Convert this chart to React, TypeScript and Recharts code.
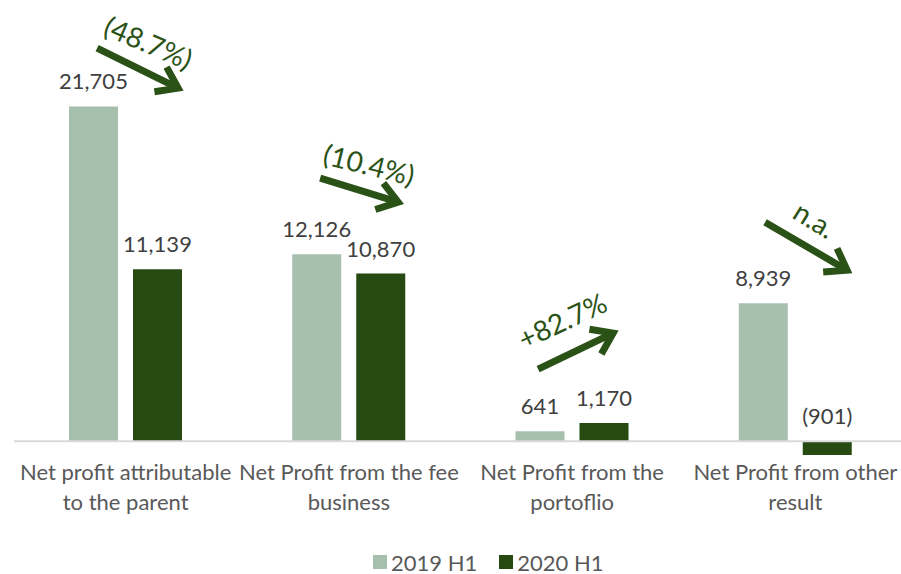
import React from "react";
import { BarChart, Bar, XAxis, YAxis, Legend, LabelList, ReferenceLine, ReferenceDot } from "recharts";

const categories = [
  "Net profit attributable\nto the parent",
  "Net Profit from the fee\nbusiness",
  "Net Profit from the\nportoflio",
  "Net Profit from other\nresult",
];
const values2019 = [21705, 12126, 641, 8939];
const values2020 = [11139, 10870, 1170, -901];
const changeLabels = ["(48.7%)", "(10.4%)", "+82.7%", "n.a."];
const seriesNames = ["2019 H1", "2020 H1"];

const COLORS = ["#a7bfad", "#274a13"];
const ANNOT = "#2b5216";
const FONT = "Lato, 'Open Sans', sans-serif";

// annotation geometry relative to (category centre, zero line)
const ARROW_LAYOUT = [
  { tail: [-28.5, -393], tip: [52.5, -353], text: [23, -399], angle: 23 },
  { tail: [-28.7, -263], tip: [49.3, -239], text: [20.3, -277], angle: 14 },
  { tail: [-34, -72], tip: [41, -108], text: [-10, -121], angle: -25 },
  { tail: [-30.3, -219], tip: [51.7, -171], text: [19.7, -222], angle: 32 },
];

const data = categories.map((name, i) => ({
  name,
  v2019: values2019[i],
  v2020: values2020[i],
}));

const fmt = (v: number) =>
  v < 0 ? `(${Math.abs(v).toLocaleString("en-US")})` : v.toLocaleString("en-US");

const ValueLabel = (props: any) => {
  const { x, y, width, height, value } = props;
  const top = Math.min(y, y + height);
  return (
    <text x={x + width / 2} y={top - 17} textAnchor="middle" fill="#404040" fontSize={22} fontFamily={FONT}>
      {fmt(value)}
    </text>
  );
};

const CatTick = (props: any) => {
  const { x, y, payload } = props;
  const lines = String(payload.value).split("\n");
  return (
    <text x={x} y={y} textAnchor="middle" fill="#595959" fontSize={22} fontFamily={FONT}>
      {lines.map((l, i) => (
        <tspan key={i} x={x} dy={i === 0 ? 8 : 30}>
          {l}
        </tspan>
      ))}
    </text>
  );
};

const makeArrow = (idx: number) => (props: any) => {
  const { cx, cy } = props;
  const g = ARROW_LAYOUT[idx];
  const tx = cx + g.tail[0], ty = cy + g.tail[1];
  const hx = cx + g.tip[0], hy = cy + g.tip[1];
  const dx = hx - tx, dy = hy - ty;
  const len = Math.sqrt(dx * dx + dy * dy);
  const ux = -dx / len, uy = -dy / len;
  const arm = 24, a = (35 * Math.PI) / 180;
  const r = (s: number) => [
    hx + arm * (ux * Math.cos(s * a) - uy * Math.sin(s * a)),
    hy + arm * (ux * Math.sin(s * a) + uy * Math.cos(s * a)),
  ];
  const [ax, ay] = r(1);
  const [bx, by] = r(-1);
  const px = cx + g.text[0], py = cy + g.text[1];
  return (
    <g>
      <line x1={tx} y1={ty} x2={hx} y2={hy} stroke={ANNOT} strokeWidth={7} />
      <path d={`M${ax},${ay} L${hx},${hy} L${bx},${by}`} stroke={ANNOT} strokeWidth={7} fill="none" strokeLinejoin="miter" />
      <text
        x={px}
        y={py}
        textAnchor="middle"
        dominantBaseline="central"
        fill={ANNOT}
        fontSize={28}
        fontFamily={FONT}
        transform={`rotate(${g.angle}, ${px}, ${py})`}
      >
        {changeLabels[idx]}
      </text>
    </g>
  );
};

const LegendContent = () => (
  <div
    style={{
      display: "flex",
      alignItems: "center",
      height: 42,
      paddingLeft: 359,
      paddingTop: 18,
      boxSizing: "border-box",
      fontFamily: FONT,
      fontSize: 22,
      color: "#595959",
    }}
  >
    {seriesNames.map((n, i) => (
      <div key={n} style={{ display: "flex", alignItems: "center", marginRight: 22 }}>
        <div style={{ width: 14, height: 14, background: COLORS[i], marginRight: 4 }} />
        <span>{n}</span>
      </div>
    ))}
  </div>
);

export default function App() {
  return (
    <div style={{ position: "absolute", left: 0, top: 0, width: 901, height: 574, overflow: "hidden", background: "#fff" }}>
      <BarChart
        width={908}
        height={574}
        data={data}
        margin={{ top: 71, right: 1, bottom: 0, left: 14 }}
        barGap={15}
        barSize={49}
      >
        <XAxis
          dataKey="name"
          height={60}
          axisLine={false}
          tickLine={false}
          tickSize={0}
          tickMargin={0}
          interval={0}
          tick={<CatTick />}
        />
        <YAxis hide domain={[-2000, 24000]} />
        <Legend verticalAlign="bottom" height={42} content={<LegendContent />} />
        <Bar dataKey="v2019" name={seriesNames[0]} fill={COLORS[0]} isAnimationActive={false}>
          <LabelList dataKey="v2019" content={<ValueLabel />} />
        </Bar>
        <Bar dataKey="v2020" name={seriesNames[1]} fill={COLORS[1]} isAnimationActive={false}>
          <LabelList dataKey="v2020" content={<ValueLabel />} />
        </Bar>
        <ReferenceLine y={0} stroke="#d9d9d9" strokeWidth={2} />
        {categories.map((c, i) => (
          <ReferenceDot key={c} x={c} y={0} r={0} ifOverflow="visible" shape={makeArrow(i)} />
        ))}
      </BarChart>
    </div>
  );
}
